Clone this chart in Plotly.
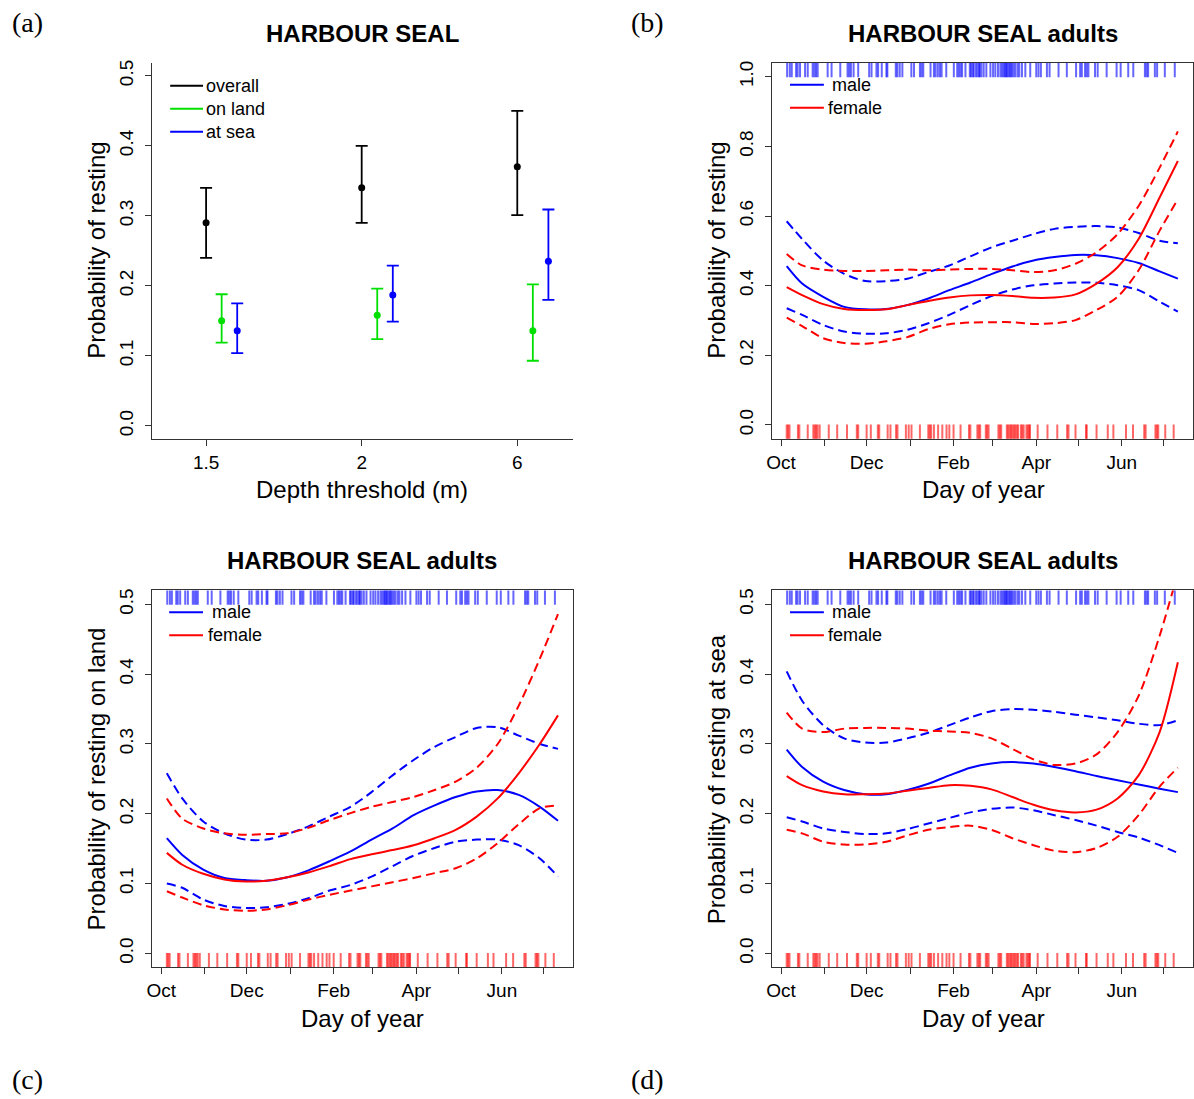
import plotly.graph_objects as go

W, H = 1194, 1099
FONT = "Liberation Sans, Arial, sans-serif"

# ---------------- Panel (a) data ----------------
depth_labels = ["1.5", "2", "6"]
overall_mean = [0.290, 0.340, 0.370]
overall_lo = [0.240, 0.290, 0.301]
overall_hi = [0.340, 0.400, 0.450]
land_mean = [0.150, 0.158, 0.136]
land_lo = [0.119, 0.124, 0.093]
land_hi = [0.188, 0.196, 0.202]
sea_mean = [0.136, 0.187, 0.235]
sea_lo = [0.104, 0.149, 0.180]
sea_hi = [0.175, 0.229, 0.309]

# ---------------- Day of year (days since 1 Oct) ----------------
days = [4, 15, 30, 45, 60, 75, 90, 105, 120, 135, 150, 165, 180, 195, 210, 225, 240, 255, 270, 283]
month_days = [0, 31, 61, 92, 123, 151, 182, 212, 243, 273]
month_labels = ["Oct", "", "Dec", "", "Feb", "", "Apr", "", "Jun", ""]

# Panel (b) overall resting
b_male = [0.456, 0.406, 0.368, 0.339, 0.332, 0.333, 0.344, 0.363, 0.387, 0.409, 0.433, 0.455, 0.472, 0.482, 0.488, 0.487, 0.479, 0.465, 0.441, 0.420]
b_male_hi = [0.585, 0.534, 0.472, 0.434, 0.413, 0.413, 0.420, 0.439, 0.458, 0.484, 0.510, 0.529, 0.548, 0.563, 0.569, 0.571, 0.567, 0.551, 0.529, 0.522]
b_male_lo = [0.335, 0.316, 0.287, 0.268, 0.262, 0.263, 0.273, 0.292, 0.316, 0.344, 0.370, 0.389, 0.401, 0.406, 0.409, 0.408, 0.401, 0.387, 0.354, 0.325]
b_fem = [0.396, 0.373, 0.347, 0.333, 0.330, 0.332, 0.344, 0.356, 0.366, 0.372, 0.373, 0.370, 0.365, 0.366, 0.375, 0.406, 0.453, 0.534, 0.653, 0.758]
b_fem_hi = [0.491, 0.458, 0.446, 0.442, 0.442, 0.444, 0.446, 0.444, 0.446, 0.448, 0.448, 0.444, 0.439, 0.444, 0.463, 0.496, 0.548, 0.629, 0.739, 0.843]
b_fem_lo = [0.308, 0.284, 0.249, 0.235, 0.233, 0.240, 0.252, 0.275, 0.289, 0.294, 0.295, 0.295, 0.290, 0.292, 0.301, 0.330, 0.368, 0.444, 0.558, 0.648]

# Panel (c) resting on land
c_male = [0.165, 0.141, 0.120, 0.108, 0.105, 0.104, 0.109, 0.119, 0.132, 0.146, 0.163, 0.179, 0.198, 0.212, 0.224, 0.232, 0.234, 0.227, 0.210, 0.190]
c_male_hi = [0.258, 0.222, 0.189, 0.172, 0.163, 0.163, 0.171, 0.182, 0.196, 0.210, 0.231, 0.255, 0.277, 0.296, 0.310, 0.323, 0.324, 0.312, 0.300, 0.293]
c_male_lo = [0.100, 0.094, 0.077, 0.068, 0.065, 0.066, 0.071, 0.079, 0.090, 0.098, 0.110, 0.125, 0.140, 0.151, 0.160, 0.163, 0.163, 0.155, 0.136, 0.110]
c_fem = [0.144, 0.127, 0.114, 0.106, 0.103, 0.104, 0.109, 0.116, 0.125, 0.135, 0.142, 0.148, 0.155, 0.165, 0.177, 0.196, 0.222, 0.258, 0.300, 0.341]
c_fem_hi = [0.222, 0.193, 0.179, 0.172, 0.170, 0.171, 0.172, 0.180, 0.191, 0.201, 0.210, 0.217, 0.224, 0.234, 0.246, 0.266, 0.300, 0.355, 0.422, 0.486]
c_fem_lo = [0.089, 0.080, 0.069, 0.063, 0.061, 0.063, 0.069, 0.077, 0.084, 0.090, 0.096, 0.102, 0.108, 0.115, 0.122, 0.136, 0.158, 0.185, 0.208, 0.212]

# Panel (d) resting at sea
d_male = [0.292, 0.267, 0.246, 0.234, 0.228, 0.228, 0.234, 0.243, 0.255, 0.266, 0.272, 0.274, 0.272, 0.267, 0.261, 0.254, 0.248, 0.242, 0.236, 0.231]
d_male_hi = [0.404, 0.362, 0.327, 0.308, 0.302, 0.302, 0.308, 0.316, 0.327, 0.338, 0.347, 0.350, 0.349, 0.346, 0.342, 0.338, 0.334, 0.329, 0.327, 0.334]
d_male_lo = [0.195, 0.189, 0.179, 0.174, 0.171, 0.172, 0.178, 0.186, 0.194, 0.202, 0.207, 0.209, 0.205, 0.198, 0.191, 0.183, 0.174, 0.166, 0.155, 0.144]
d_fem = [0.254, 0.241, 0.232, 0.228, 0.228, 0.229, 0.233, 0.237, 0.241, 0.240, 0.235, 0.224, 0.213, 0.205, 0.202, 0.206, 0.222, 0.255, 0.317, 0.417]
d_fem_hi = [0.345, 0.322, 0.317, 0.322, 0.323, 0.323, 0.322, 0.319, 0.318, 0.316, 0.308, 0.293, 0.278, 0.270, 0.272, 0.285, 0.317, 0.369, 0.455, 0.545]
d_fem_lo = [0.177, 0.172, 0.160, 0.156, 0.156, 0.160, 0.169, 0.177, 0.181, 0.183, 0.177, 0.165, 0.155, 0.147, 0.145, 0.151, 0.167, 0.198, 0.239, 0.266]

# Rug: observation days (male on top, female at bottom)
male_rug = [4.3, 6.2, 7.6, 10.7, 11.8, 13.5, 17.1, 19, 22.5, 23.7, 24.9, 26.1, 33.2, 36, 42.2, 47.4, 48.6, 49.8,
            51.7, 55, 62.8, 64.5, 68, 69.2, 71.8, 75.1, 75.8, 81.8, 82.9, 84.6, 86.5, 92.9, 94.8, 99, 100.2, 101.4,
            106.6, 109, 110.2, 111.8, 113.3, 114.5, 117.8, 123.2, 125.6, 126.8, 128, 129.1, 131.5, 134.6, 135.5,
            136.7, 137.4, 138.9, 140, 141.2, 141.7, 142.9, 144.5, 146.4, 149.3, 151.2, 152.8, 154.7, 156.4, 157.6,
            158.8, 159.5, 160.4, 161.1, 162.1, 163, 163.7, 164.7, 165.9, 167.1, 168.7, 169.9, 171.8, 174.2, 177.7,
            182, 183.6, 185.3, 189.6, 191.5, 197.9, 203.8, 210.4, 213.3, 214.5, 216.8, 218, 219.2, 223.9, 225.8,
            232.2, 239.3, 242.2, 247.6, 251.2, 259.5, 260.7, 261.8, 266.6, 268.2, 273.7, 280.8]
female_rug = [4, 5, 6, 12, 13, 19, 23, 24, 25, 26, 27.5, 34, 40, 47, 54, 55, 61, 64, 69, 70, 76, 78, 82, 83, 89, 91,
              93, 99, 105, 106, 107, 109, 112, 115, 118, 120, 123, 128, 134, 135, 140, 141, 142, 146, 147, 148, 155,
              156, 157, 161, 162, 163, 164, 165, 166, 167, 168, 169, 171, 172, 173, 175, 176, 177, 177.5, 183, 190,
              197, 204, 205, 210, 217.5, 218, 225, 233, 237, 246, 251, 259, 260, 267, 268, 269, 274, 280]

BLUE = "#0000FF"
RED = "#FF0000"
GREEN = "#00E000"
BLACK = "#000000"
AXC = "#333333"


def dx(l, r):
    return [l / W, r / W]


def dy(t, b):
    return [1 - b / H, 1 - t / H]


def px(x):
    return x / W


def py(y):
    return 1 - y / H


fig = go.Figure()

# ---------- Panel (a) ----------
groups = [
    ("overall", overall_mean, overall_lo, overall_hi, BLACK, 0.0),
    ("on land", land_mean, land_lo, land_hi, GREEN, 0.1),
    ("at sea", sea_mean, sea_lo, sea_hi, BLUE, 0.2),
]
for name, m, lo, hi, col, off in groups:
    fig.add_trace(go.Scatter(
        x=[i + 1 + off for i in range(len(depth_labels))], y=m, mode="markers",
        marker=dict(size=7, color=col),
        error_y=dict(type="data", symmetric=False,
                     array=[h - v for h, v in zip(hi, m)],
                     arrayminus=[v - l for v, l in zip(m, lo)],
                     color=col, thickness=1.8, width=6),
        xaxis="x", yaxis="y", showlegend=False, name=name))

# ---------- Panels (b), (c), (d) ----------
panels = [
    ("x2", "y2", "y5", b_male, b_male_lo, b_male_hi, b_fem, b_fem_lo, b_fem_hi),
    ("x3", "y3", "y6", c_male, c_male_lo, c_male_hi, c_fem, c_fem_lo, c_fem_hi),
    ("x4", "y4", "y7", d_male, d_male_lo, d_male_hi, d_fem, d_fem_lo, d_fem_hi),
]
DASH = "9px,5px"
for xa, ya, yr, m, mlo, mhi, f, flo, fhi in panels:
    for series, col, dash in [(mhi, BLUE, DASH), (mlo, BLUE, DASH), (m, BLUE, "solid"),
                              (fhi, RED, DASH), (flo, RED, DASH), (f, RED, "solid")]:
        fig.add_trace(go.Scatter(x=days, y=series, mode="lines",
                                 line=dict(color=col, width=2, dash=dash, shape="spline", smoothing=0.8),
                                 xaxis=xa, yaxis=ya, showlegend=False, hoverinfo="skip"))
    # rugs
    fig.add_trace(go.Scatter(x=male_rug, y=[0.984] * len(male_rug), mode="markers",
                             marker=dict(symbol="line-ns", size=12,
                                         line=dict(color="rgba(0,0,255,0.6)", width=2)),
                             xaxis=xa, yaxis=yr, showlegend=False, hoverinfo="skip"))
    fig.add_trace(go.Scatter(x=female_rug, y=[0.016] * len(female_rug), mode="markers",
                             marker=dict(symbol="line-ns", size=12,
                                         line=dict(color="rgba(255,0,0,0.6)", width=2)),
                             xaxis=xa, yaxis=yr, showlegend=False, hoverinfo="skip"))

tickfont = dict(family=FONT, size=19, color=BLACK)


def xaxis_day(domain, anchor):
    return dict(domain=domain, anchor=anchor, range=[-6.4, 293.8], tickvals=month_days, ticktext=month_labels,
                ticks="outside", ticklen=6, tickcolor=AXC, showline=True, linecolor=AXC, linewidth=1,
                mirror=True, showgrid=False, zeroline=False, tickfont=tickfont)


def yaxis_prob(domain, anchor, rng, vals, mirror=True):
    return dict(domain=domain, anchor=anchor, range=rng, tickvals=vals, tickformat=".1f", tickangle=-90,
                ticks="outside", ticklen=6, tickcolor=AXC, showline=True, linecolor=AXC, linewidth=1,
                ticklabelstandoff=5,
                mirror=mirror, showgrid=False, zeroline=False, tickfont=tickfont)


p05 = [0, 0.1, 0.2, 0.3, 0.4, 0.5]
p10 = [0, 0.2, 0.4, 0.6, 0.8, 1.0]

fig.update_layout(
    width=W, height=H, margin=dict(l=0, r=0, t=0, b=0),
    paper_bgcolor="white", plot_bgcolor="white", showlegend=False,
    font=dict(family=FONT, color=BLACK),
    xaxis=dict(domain=dx(147, 570), anchor="y", range=[0.654, 3.359], tickvals=[1, 2, 3], ticktext=depth_labels,
               ticks="outside", ticklen=6, tickcolor=AXC, showline=True, linecolor=AXC, linewidth=1,
               mirror=False, showgrid=False, zeroline=False, tickfont=tickfont),
    yaxis=yaxis_prob(dy(60, 437), "x", [-0.0185, 0.5185], p05, mirror=False),
    xaxis2=xaxis_day(dx(770, 1193), "y2"),
    yaxis2=yaxis_prob(dy(60, 437), "x2", [-0.04, 1.04], p10),
    xaxis3=xaxis_day(dx(147, 570), "y3"),
    yaxis3=yaxis_prob(dy(589, 967), "x3", [-0.02, 0.52], p05),
    xaxis4=xaxis_day(dx(770, 1193), "y4"),
    yaxis4=yaxis_prob(dy(589, 967), "x4", [-0.02, 0.52], p05),
    yaxis5=dict(overlaying="y2", anchor="x2", range=[0, 1], visible=False),
    yaxis6=dict(overlaying="y3", anchor="x3", range=[0, 1], visible=False),
    yaxis7=dict(overlaying="y4", anchor="x4", range=[0, 1], visible=False),
)

ann = []
shapes = []


def text(x, y, s, size, bold=False, angle=0, xanchor="center", family=FONT):
    ann.append(dict(x=px(x), y=py(y), xref="paper", yref="paper", text=("<b>%s</b>" % s) if bold else s,
                    showarrow=False, xanchor=xanchor, yanchor="middle", textangle=angle,
                    font=dict(family=family, size=size, color=BLACK)))


# Titles
text(358, 31, "HARBOUR SEAL", 24, bold=True)
text(982, 31, "HARBOUR SEAL adults", 24, bold=True)
text(358, 559, "HARBOUR SEAL adults", 24, bold=True)
text(982, 559, "HARBOUR SEAL adults", 24, bold=True)
# Axis titles
text(358, 488, "Depth threshold (m)", 24)
text(982, 488, "Day of year", 24)
text(358, 1018, "Day of year", 24)
text(982, 1018, "Day of year", 24)
text(91, 248, "Probability of resting", 24, angle=-90)
text(714, 248, "Probability of resting", 24, angle=-90)
text(91, 778, "Probability of resting on land", 24, angle=-90)
text(714, 778, "Probability of resting at sea", 24, angle=-90)
# Panel letters
SERIF = "Liberation Serif, Times New Roman, serif"
text(4, 20, "(a)", 28, xanchor="left", family=SERIF)
text(626, 20, "(b)", 28, xanchor="left", family=SERIF)
text(4, 1079, "(c)", 28, xanchor="left", family=SERIF)
text(626, 1079, "(d)", 28, xanchor="left", family=SERIF)


def leg_line(x0, x1, y, col):
    shapes.append(dict(type="line", xref="paper", yref="paper", x0=px(x0), x1=px(x1), y0=py(y), y1=py(y),
                       line=dict(color=col, width=2)))


# Legend (a)
for (lab, col), y in zip([("overall", BLACK), ("on land", GREEN), ("at sea", BLUE)], [83, 106, 129]):
    leg_line(165, 198, y, col)
    text(199, y, lab, 18, xanchor="left")

# Legends (b), (c), (d)
for lx0, lx1, ty, mx, fx in [(788, 822, 82, 828, 824), (164, 198, 611, 205, 201), (788, 822, 611, 828, 824)]:
    leg_line(lx0, lx1, ty, BLUE)
    text(mx, ty, "male", 18, xanchor="left")
    leg_line(lx0, lx1, ty + 23, RED)
    text(fx, ty + 23, "female", 18, xanchor="left")

fig.update_layout(annotations=ann, shapes=shapes)
fig.write_html("out.html", config={"displayModeBar": False},
               post_script="document.body.style.margin='0';document.body.style.padding='0';"
                           "document.documentElement.style.overflow='hidden';")
